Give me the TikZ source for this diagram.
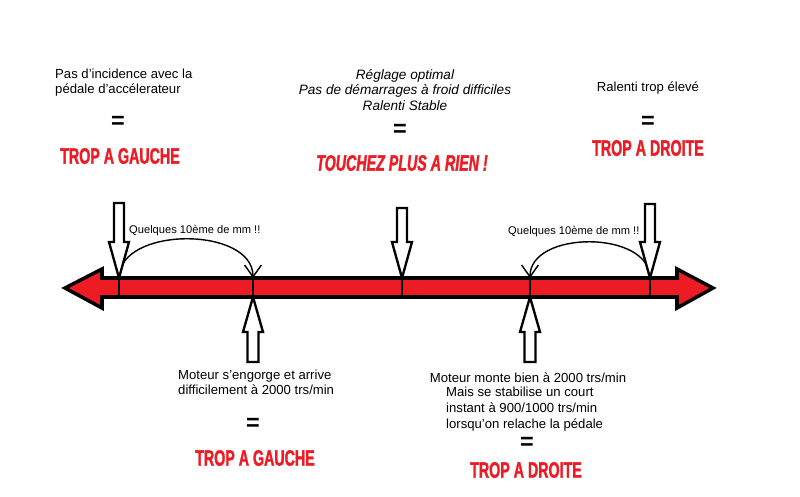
\documentclass[tikz,border=0pt]{standalone}
\usepackage{fontspec}
\setmainfont{Liberation Sans}
\newfontfamily\impactfont{Liberation Sans}[FakeStretch=0.64,FakeBold=1.5]
\usepackage{xcolor}
\usepackage{tikz}
\usetikzlibrary{arrows.meta,positioning,calc}
\definecolor{paintred}{RGB}{237,28,36}
\tikzset{
  txt/.style={inner sep=0pt, font=\fontsize{11.2}{12.6}\selectfont, align=left},
  ctxt/.style={txt, align=center},
  note/.style={inner sep=0pt, font=\fontsize{9.5}{11}\selectfont},
  eqsign/.style={inner sep=0pt, font=\fontsize{20}{20}\selectfont\bfseries},
  verdict/.style={inner sep=0pt, text=paintred,
                  font=\impactfont\fontsize{19}{19}\selectfont\bfseries},
  bar/.style={draw, line width=3pt, fill=paintred},
  tick/.style={line width=2pt},
  hollow/.style={draw, line width=2pt, fill=white},
  hop/.style={line width=1.2pt, -{Straight Barb[length=3.5mm, width=5mm]}},
  pics/downarr/.style={code={
    \draw[hollow] (0,0) -- (-10,-36) -- (-5,-36) -- (-5,-#1) -- (5,-#1)
      -- (5,-36) -- (10,-36) -- cycle;}},
  pics/uparr/.style={code={
    \draw[hollow] (0,0) -- (-10,35) -- (-5.5,35) -- (-5.5,#1) -- (5.5,#1)
      -- (5.5,35) -- (10,35) -- cycle;}},
}

\begin{document}
\begin{tikzpicture}[x=0.03cm, y=-0.03cm]
  \useasboundingbox (0,0) rectangle (800,497);
  % the setting scale
  \draw[bar] (65,288) -- (102,269) -- (102,278) -- (677,278) -- (677,269)
    -- (713,288) -- (677,308) -- (677,297) -- (102,297) -- (102,308) -- cycle;
  \foreach \n/\x in {1/119,2/253,3/402,4/530,5/650} {
    \coordinate (t\n) at (\x,278);
    \coordinate (b\n) at (\x,297);
    \draw[tick] (t\n) -- (b\n);
  }
  % a few tenths of a mm
  \draw[hop] (t1) .. controls +(0,-52) and +(0,-52) .. (t2);
  \draw[hop] (t5) .. controls +(0,-48) and +(0,-48) .. (t4);
  \node[note, anchor=west] (hopL) at (129,231) {Quelques 10ème de mm !!};
  \node[note, anchor=west] (hopR) at (508,232) {Quelques 10ème de mm !!};
  % pointers
  \pic at (t1) {downarr=75};
  \pic at (t3) {downarr=70};
  \pic at (t5) {downarr=74};
  \pic at (b2) {uparr=65};
  \pic at (b4) {uparr=65};
  % top left
  \node[txt, anchor=north west] (txtL) at (55,69)
    {Pas d'incidence avec la\\pédale d'accélerateur};
  \node[eqsign] (eqL) at (118,122) {=};
  \node[verdict] (verdL) at (120,156) {TROP A GAUCHE};
  % top middle
  \node[ctxt, font=\fontsize{11.6}{13.2}\selectfont\itshape] (txtC) at (405,90)
    {Réglage optimal\\Pas de démarrages à froid difficiles\\Ralenti Stable};
  \node[eqsign] (eqC) at (400,130) {=};
  \node[verdict, font=\impactfont\fontsize{19}{19}\selectfont\bfseries\itshape]
    (verdC) at (402,163) {TOUCHEZ PLUS A RIEN !};
  % top right
  \node[txt] (txtR) at (648,88) {Ralenti trop élevé};
  \node[eqsign] (eqR) at (648,122) {=};
  \node[verdict] (verdR) at (648,148) {TROP A DROITE};
  % bottom left
  \node[txt, anchor=north west] (txtBL) at (178,370)
    {Moteur s'engorge et arrive\\difficilement à 2000 trs/min};
  \node[eqsign] (eqBL) at (253,424) {=};
  \node[verdict] (verdBL) at (255,458) {TROP A GAUCHE};
  % bottom right
  \node[txt] (txtBR) at (528,378) {Moteur monte bien à 2000 trs/min};
  \node[txt, font=\fontsize{11.2}{13.4}\selectfont, anchor=north west] (txtBR2)
    at (446,387) {Mais se stabilise un court\\instant à 900/1000 trs/min\\
    lorsqu'on relache la pédale};
  \node[eqsign] (eqBR) at (527,443) {=};
  \node[verdict] (verdBR) at (526,470) {TROP A DROITE};
\end{tikzpicture}
\end{document}
